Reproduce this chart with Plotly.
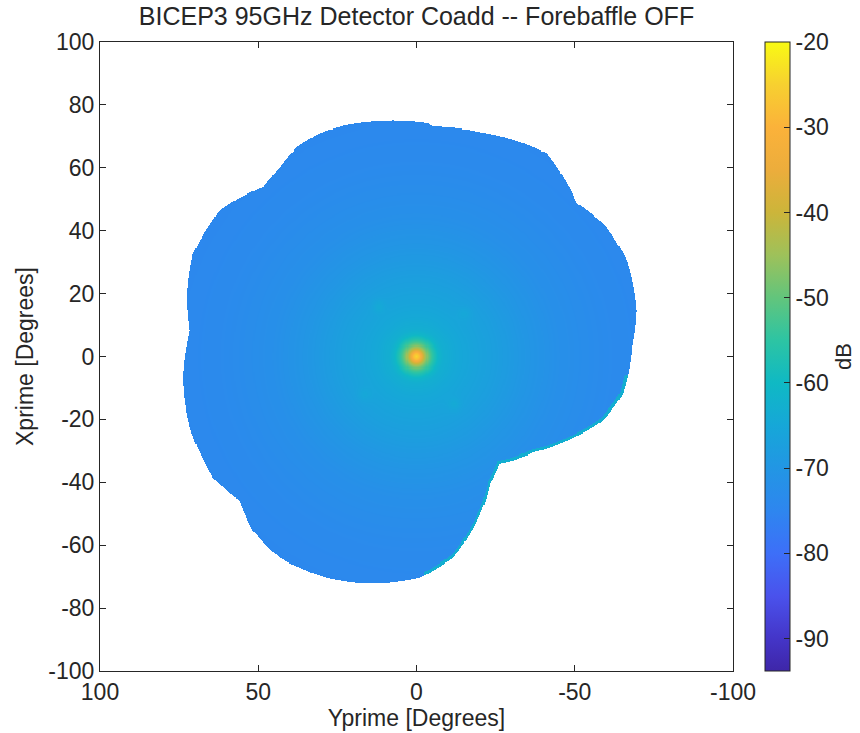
import numpy as np
import plotly.graph_objects as go

# Coverage edge of the coadded beam map, in polar form (angle deg, radius deg)
edge_angle = [3.2, 6.6, 15.5, 24.9, 36.8, 42.2, 48.0, 54.4, 60.4, 66.8, 73.4, 92.5,
              94.2, 105.7, 122.5, 136.2, 144.3, 155.3, 168.2, 176.6, 190.3, 199.1,
              209.4, 219.5, 232.3, 240.1, 251.8, 259.8, 269.1, 282.2, 291.9, 303.9,
              313.0, 320.6, 329.1, 342.5, 354.8]
edge_radius = [72.6, 72.1, 75.2, 77.8, 77.6, 75.3, 72.4, 74.0, 76.6, 77.3, 76.8, 74.3,
               73.3, 74.1, 76.6, 70.3, 72.6, 73.2, 71.2, 68.5, 66.3, 62.3,
               54.5, 47.9, 43.1, 46.6, 57.4, 65.0, 70.4, 74.0, 75.9, 77.2,
               75.8, 72.3, 74.9, 75.1, 74.1]

# Azimuthally averaged beam response (dB) versus radius (deg)
profile_r = [0, 1.0, 1.8, 2.6, 3.5, 4.5, 5.6, 7.0, 8.5, 12, 18, 25, 35, 45, 60, 80]
profile_db = [-24, -28, -35, -42, -48, -53, -57, -61, -63, -64.5, -66, -67.5,
              -70, -72, -73.5, -74.5]

# Faint near sidelobes (x deg, y deg, dB boost)
lobe_x = [12.0, -15.2, 16.4, -12.0]
lobe_y = [15.9, 13.7, -12.1, -15.3]
lobe_boost = [2.0, 1.5, 1.5, 2.0]

# Brighter rim seen along the lower-right truncation edge
rim_angles = [185.0, 268.0]
rim_db = -63.0

cbar_ticks = [-90, -80, -70, -60, -50, -40, -30, -20]
axis_ticks = [100, 50, 0, -50, -100]
yaxis_ticks = [100, 80, 60, 40, 20, 0, -20, -40, -60, -80, -100]
z_range = [-93.8, -20]

# parula-style colour stops expressed in dB
cmap_db = [-93.8, -90, -85, -80, -75, -70, -65, -60, -55, -50, -45, -40, -35, -30, -25, -20]
cmap_col = ["#3e26a8", "#4435c8", "#4a52ec", "#3d6ff8", "#2e86ef", "#2296e4", "#16a7d8",
            "#0fb9c4", "#2dc4a3", "#62c57c", "#9ec15a", "#ccb53a", "#ecad3c", "#fbb23a",
            "#f7d030", "#f9fa14"]
colorscale = [[(d - z_range[0]) / (z_range[1] - z_range[0]), c] for d, c in zip(cmap_db, cmap_col)]

# Build the map on a fine grid
xs = np.linspace(-100, 100, 601)
ys = np.linspace(-100, 100, 601)
X, Y = np.meshgrid(xs, ys)
R = np.hypot(X, Y)
TH = np.degrees(np.arctan2(Y, X)) % 360
rb = np.interp(TH, edge_angle, edge_radius, period=360)

Z = np.interp(R, profile_r, profile_db)
for lx, ly, lb in zip(lobe_x, lobe_y, lobe_boost):
    Z = Z + lb * np.exp(-((X - lx) ** 2 + (Y - ly) ** 2) / (2 * 1.5 ** 2))
rim = (rb - R < 1.1) & (TH >= rim_angles[0]) & (TH <= rim_angles[1])
Z = np.where(rim, rim_db, Z)
Z = np.where(R <= rb, np.round(Z, 2), np.nan)

font = "Liberation Sans, Arial, Helvetica, sans-serif"
ink = "#262626"
fs = 23

fig = go.Figure(go.Heatmap(
    x=xs, y=ys, z=Z, zmin=z_range[0], zmax=z_range[1],
    colorscale=colorscale, hoverongaps=False, hoverinfo="skip",
    colorbar=dict(
        x=(765 - 100) / 633, xanchor="left", xref="paper", xpad=0, ypad=0,
        y=0.5, yanchor="middle", len=1, lenmode="fraction",
        thickness=25, thicknessmode="pixels",
        outlinecolor=ink, outlinewidth=1,
        ticks="inside", ticklen=6, tickcolor=ink,
        tickvals=cbar_ticks, ticktext=[str(v) for v in cbar_ticks],
        tickfont=dict(family=font, size=fs, color=ink),
        title=dict(text="dB", side="right", font=dict(family=font, size=fs - 1, color=ink)),
    ),
))

axis_common = dict(
    showline=True, linecolor=ink, linewidth=1, mirror="ticks",
    ticks="inside", ticklen=6, tickcolor=ink, showgrid=False, zeroline=False,
    tickfont=dict(family=font, size=fs, color=ink),
)

fig.update_layout(
    width=860, height=733,
    margin=dict(l=100, r=127, t=42, b=62, autoexpand=False),
    paper_bgcolor="white", plot_bgcolor="white",
    title=dict(text="BICEP3 95GHz Detector Coadd -- Forebaffle OFF",
               x=(100 + 733) / 2 / 860, xanchor="center", y=1 - 16 / 733, yanchor="middle",
               font=dict(family=font, size=25, color=ink)),
    xaxis=dict(range=[100, -100], tickvals=axis_ticks, ticktext=[str(v) for v in axis_ticks],
               title=dict(text="Yprime [Degrees]", standoff=2,
                          font=dict(family=font, size=fs, color=ink)),
               **axis_common),
    yaxis=dict(range=[-100, 100], tickvals=yaxis_ticks, ticktext=[str(v) for v in yaxis_ticks],
               title=dict(text="Xprime [Degrees]", standoff=8,
                          font=dict(family=font, size=fs, color=ink)),
               **axis_common),
)

fig.write_html("out.html")
